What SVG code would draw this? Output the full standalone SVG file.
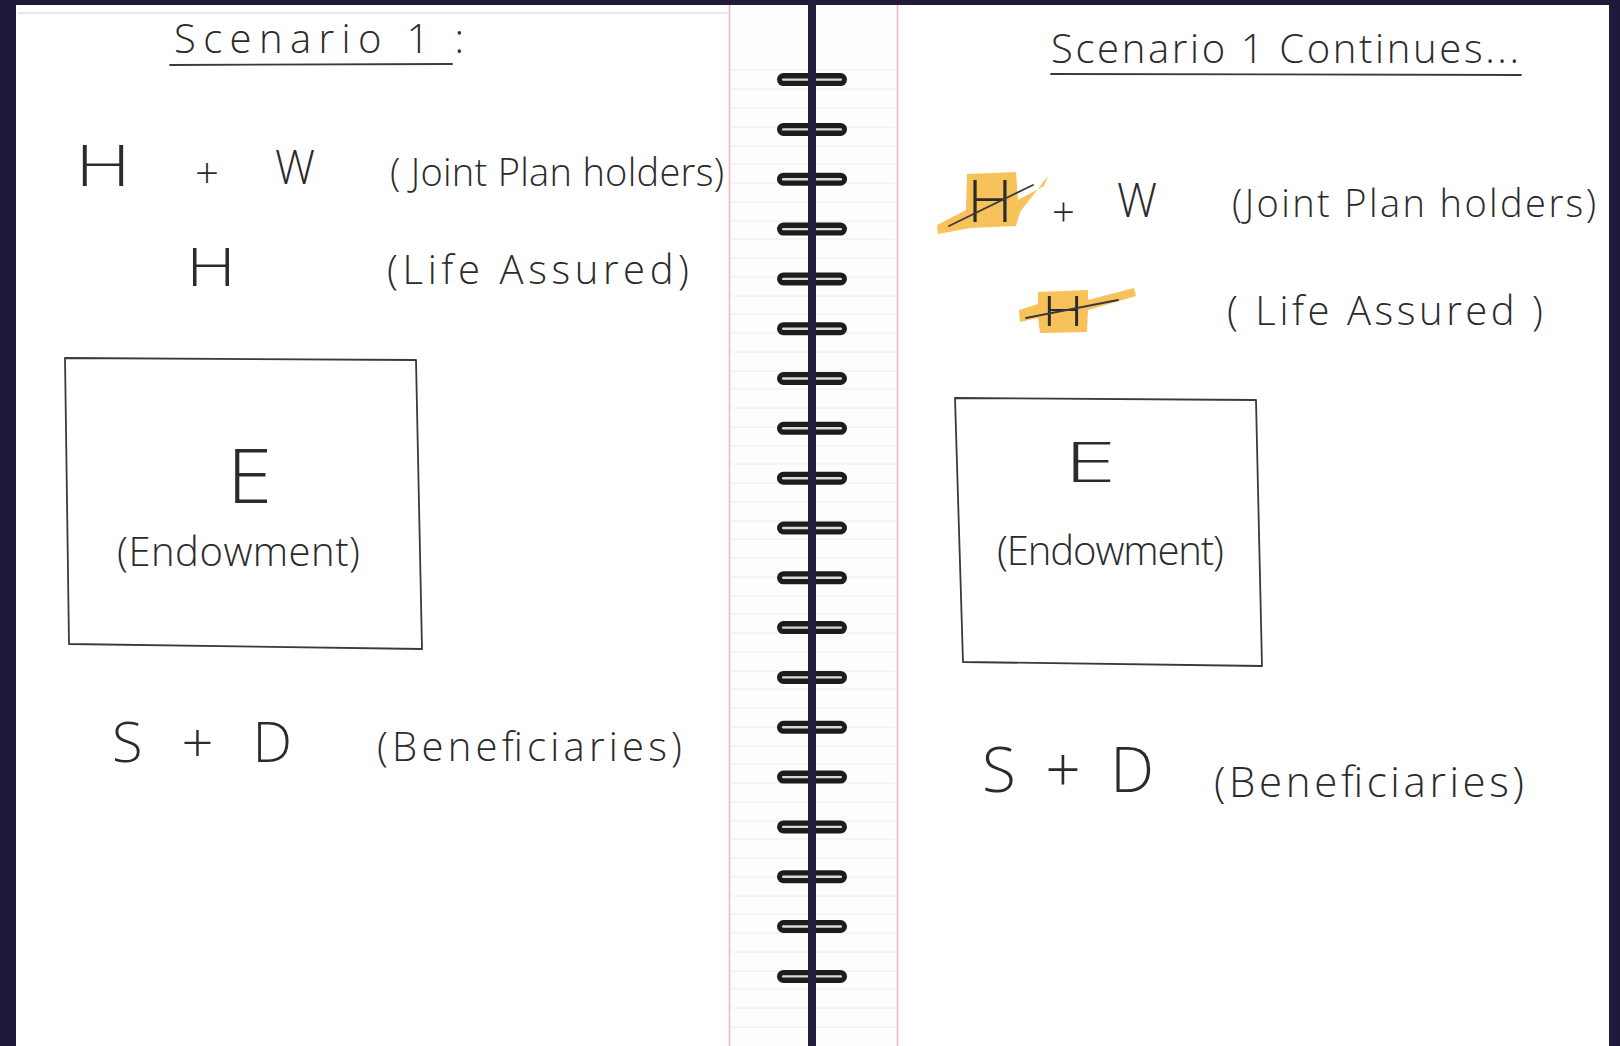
<svg xmlns="http://www.w3.org/2000/svg" width="1620" height="1046" viewBox="0 0 1620 1046">
<defs>
<style>
.hw{font-family:"Open Sans","Liberation Sans",sans-serif;font-weight:300;fill:#2b2b2b}
.ln{fill:none;stroke:#3a3a3a;stroke-width:1.8;stroke-linecap:round;stroke-linejoin:round}
.rule{stroke:#ececec;stroke-width:1}
.hl{fill:#f6b73c;opacity:0.85}
</style>
<g id="ring">
<rect x="777" y="-6.5" width="70" height="13" rx="6.5" fill="#1c1c1c"/>
<rect x="782" y="-1.2" width="60" height="2.4" rx="1.2" fill="#d9d9d9"/>
</g>
</defs>
<rect width="1620" height="1046" fill="#1f1a3a"/>
<g id="left-page">
<rect x="16" y="5" width="713" height="1041" fill="#ffffff"/>
<line x1="18" y1="13" x2="728" y2="13" stroke="#cfcfcf" stroke-width="1.2"/>
</g>
<g id="binding">
<rect x="729" y="5" width="170" height="1041" fill="#fdfdfd"/>
<g class="rule">
<line x1="731" y1="70" x2="896" y2="70"/><line x1="731" y1="89" x2="896" y2="89"/><line x1="731" y1="108" x2="896" y2="108"/><line x1="731" y1="127" x2="896" y2="127"/><line x1="731" y1="146" x2="896" y2="146"/><line x1="731" y1="164" x2="896" y2="164"/><line x1="731" y1="183" x2="896" y2="183"/><line x1="731" y1="202" x2="896" y2="202"/><line x1="731" y1="221" x2="896" y2="221"/><line x1="731" y1="239" x2="896" y2="239"/><line x1="731" y1="258" x2="896" y2="258"/><line x1="731" y1="277" x2="896" y2="277"/><line x1="731" y1="296" x2="896" y2="296"/><line x1="731" y1="314" x2="896" y2="314"/><line x1="731" y1="333" x2="896" y2="333"/><line x1="731" y1="352" x2="896" y2="352"/><line x1="731" y1="371" x2="896" y2="371"/><line x1="731" y1="389" x2="896" y2="389"/><line x1="731" y1="408" x2="896" y2="408"/><line x1="731" y1="427" x2="896" y2="427"/><line x1="731" y1="446" x2="896" y2="446"/><line x1="731" y1="464" x2="896" y2="464"/><line x1="731" y1="483" x2="896" y2="483"/><line x1="731" y1="502" x2="896" y2="502"/><line x1="731" y1="521" x2="896" y2="521"/><line x1="731" y1="539" x2="896" y2="539"/><line x1="731" y1="558" x2="896" y2="558"/><line x1="731" y1="577" x2="896" y2="577"/><line x1="731" y1="596" x2="896" y2="596"/><line x1="731" y1="614" x2="896" y2="614"/><line x1="731" y1="633" x2="896" y2="633"/><line x1="731" y1="652" x2="896" y2="652"/><line x1="731" y1="671" x2="896" y2="671"/><line x1="731" y1="689" x2="896" y2="689"/><line x1="731" y1="708" x2="896" y2="708"/><line x1="731" y1="727" x2="896" y2="727"/><line x1="731" y1="746" x2="896" y2="746"/><line x1="731" y1="764" x2="896" y2="764"/><line x1="731" y1="783" x2="896" y2="783"/><line x1="731" y1="802" x2="896" y2="802"/><line x1="731" y1="821" x2="896" y2="821"/><line x1="731" y1="839" x2="896" y2="839"/><line x1="731" y1="858" x2="896" y2="858"/><line x1="731" y1="877" x2="896" y2="877"/><line x1="731" y1="896" x2="896" y2="896"/><line x1="731" y1="914" x2="896" y2="914"/><line x1="731" y1="933" x2="896" y2="933"/><line x1="731" y1="952" x2="896" y2="952"/><line x1="731" y1="971" x2="896" y2="971"/><line x1="731" y1="989" x2="896" y2="989"/><line x1="731" y1="1008" x2="896" y2="1008"/><line x1="731" y1="1027" x2="896" y2="1027"/>
</g>
<line x1="729.5" y1="5" x2="729.5" y2="1046" stroke="#f3b5b5" stroke-width="1.5"/>
<line x1="897.5" y1="5" x2="897.5" y2="1046" stroke="#f3b5b5" stroke-width="1.5"/>
<use href="#ring" y="79.6"/><use href="#ring" y="129.4"/><use href="#ring" y="179.2"/><use href="#ring" y="229.1"/><use href="#ring" y="278.9"/><use href="#ring" y="328.7"/><use href="#ring" y="378.5"/><use href="#ring" y="428.3"/><use href="#ring" y="478.2"/><use href="#ring" y="528"/><use href="#ring" y="577.8"/><use href="#ring" y="627.6"/><use href="#ring" y="677.4"/><use href="#ring" y="727.3"/><use href="#ring" y="777.1"/><use href="#ring" y="826.9"/><use href="#ring" y="876.7"/><use href="#ring" y="926.5"/><use href="#ring" y="976.4"/>
<rect x="808" y="0" width="8" height="1046" fill="#231d3d"/>
</g>
<g id="right-page">
<rect x="899" y="5" width="710" height="1041" fill="#ffffff"/>
</g>

<g id="title-left">
<text class="hw" x="174" y="53" font-size="40" textLength="290" lengthAdjust="spacing">Scenario 1 :</text>
<path class="ln" d="M170 65 L452 64"/>
</g>
<g id="joint-left">
<text class="hw" x="75" y="186" font-size="57" textLength="56" lengthAdjust="spacingAndGlyphs">H</text>
<text class="hw" x="195" y="188" font-size="42">+</text>
<text class="hw" x="275" y="184" font-size="48" textLength="40" lengthAdjust="spacingAndGlyphs">W</text>
<text class="hw" x="390" y="186" font-size="38" textLength="334" lengthAdjust="spacing">( Joint Plan holders)</text>
</g>
<g id="life-left">
<text class="hw" x="186" y="286" font-size="53" textLength="50" lengthAdjust="spacingAndGlyphs">H</text>
<text class="hw" x="387" y="284" font-size="40" textLength="302" lengthAdjust="spacing">(Life Assured)</text>
</g>
<g id="endowment-left">
<path class="ln" d="M65 358 L416 360 L422 649 L69 644 Z"/>
<text class="hw" x="227" y="503" font-size="76" textLength="45" lengthAdjust="spacingAndGlyphs">E</text>
<text class="hw" x="117" y="566" font-size="40" textLength="243" lengthAdjust="spacing">(Endowment)</text>
</g>
<g id="beneficiaries-left">
<text class="hw" x="112" y="762" font-size="56" textLength="180" lengthAdjust="spacing">S + D</text>
<text class="hw" x="377" y="761" font-size="40" textLength="305" lengthAdjust="spacing">(Beneficiaries)</text>
</g>

<g id="title-right">
<text class="hw" x="1051" y="63" font-size="40" textLength="468" lengthAdjust="spacing">Scenario 1 Continues...</text>
<path class="ln" d="M1051 74 L1521 75"/>
</g>
<g id="joint-right">
<path class="hl" d="M967 174 L1016 172 L1018 200 L1044 186 L1048 176 L1020 212 L1016 226 L970 228 L938 234 L937 225 L966 210 Z"/>
<text class="hw" x="967" y="222" font-size="58" textLength="46" lengthAdjust="spacingAndGlyphs">H</text>
<path class="ln" d="M949 226 L1033 185" stroke-width="1.5"/>
<text class="hw" x="1052" y="226" font-size="40">+</text>
<text class="hw" x="1117" y="217" font-size="48" textLength="40" lengthAdjust="spacingAndGlyphs">W</text>
<text class="hw" x="1232" y="217" font-size="38" textLength="364" lengthAdjust="spacing">(Joint Plan holders)</text>
</g>
<g id="life-right">
<path class="hl" d="M1038 292 L1088 290 L1088 300 L1134 288 L1136 296 L1088 310 L1087 332 L1040 333 L1038 318 L1020 322 L1019 310 L1038 304 Z"/>
<text class="hw" x="1042" y="326" font-size="42" textLength="42" lengthAdjust="spacingAndGlyphs">H</text>
<path class="ln" d="M1026 318 L1118 300" stroke-width="1.5"/>
<text class="hw" x="1227" y="325" font-size="40" textLength="316" lengthAdjust="spacing">( Life Assured )</text>
</g>
<g id="endowment-right">
<path class="ln" d="M955 398 L1256 400 L1262 666 L963 662 Z"/>
<text class="hw" x="1064" y="482" font-size="56" textLength="52" lengthAdjust="spacingAndGlyphs">E</text>
<text class="hw" x="997" y="565" font-size="40" textLength="227" lengthAdjust="spacing">(Endowment)</text>
</g>
<g id="beneficiaries-right">
<text class="hw" x="982" y="792" font-size="62" textLength="172" lengthAdjust="spacing">S+D</text>
<text class="hw" x="1214" y="797" font-size="42" textLength="310" lengthAdjust="spacing">(Beneficiaries)</text>
</g>
</svg>
